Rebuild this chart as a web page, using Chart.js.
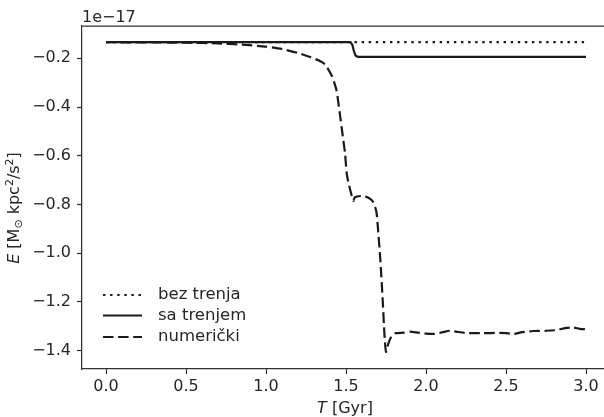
<!DOCTYPE html>
<html>
<head>
<meta charset="utf-8">
<script src="https://cdn.jsdelivr.net/npm/chart.js@4"></script>
<style>html,body{margin:0;padding:0;background:#fff;overflow:hidden}</style>
</head>
<body>
<canvas id="chart" width="604" height="417"></canvas>
<script>
const canvas = document.getElementById("chart");
const ctx = canvas.getContext("2d");

// vrijednosti u jedinicama 1e-17
const tBez = [0, 3.0];
const eBez = [-0.134, -0.134];

const tSa = [0, 1.528, 1.54, 1.55, 1.56, 1.575, 3.0];
const eSa = [-0.134, -0.134, -0.145, -0.172, -0.189, -0.194, -0.194];

const tNum = [0, 0.3, 0.5, 0.7, 0.85, 1.0, 1.1, 1.2, 1.28, 1.34, 1.37, 1.41, 1.44, 1.46, 1.48, 1.494, 1.504, 1.515, 1.53, 1.546,
  1.555, 1.6, 1.64, 1.67, 1.69, 1.70, 1.715, 1.73, 1.74, 1.75, 1.765, 1.785, 1.81, 1.86, 1.9, 1.95, 2.0, 2.05, 2.1, 2.15,
  2.2, 2.25, 2.35, 2.45, 2.5, 2.55, 2.6, 2.67, 2.75, 2.82, 2.87, 2.92, 2.96, 3.0];
const eNum = [-0.134, -0.135, -0.136, -0.139, -0.144, -0.152, -0.162, -0.178, -0.196, -0.212, -0.226, -0.27, -0.33, -0.42, -0.52, -0.59, -0.67, -0.71, -0.75, -0.785,
  -0.77, -0.765, -0.772, -0.79, -0.83, -0.9, -1.03, -1.2, -1.33, -1.405, -1.37, -1.34, -1.328, -1.326, -1.322, -1.326, -1.33, -1.331, -1.325, -1.318,
  -1.323, -1.327, -1.328, -1.327, -1.328, -1.331, -1.324, -1.319, -1.318, -1.315, -1.307, -1.305, -1.31, -1.312];

const xTicks = [0, 0.5, 1.0, 1.5, 2.0, 2.5, 3.0];
const yTicks = [-1.4, -1.2, -1.0, -0.8, -0.6, -0.4, -0.2];
const labels = ["bez trenja", "sa trenjem", "numerički"];

const pts = (xs, ys) => xs.map((x, i) => ({ x, y: ys[i] }));
const FONT = "'DejaVu Sans', sans-serif";
const TXT = "#262626";
const LINE = "#1a1a1a";

const extras = {
  id: "extras",
  afterDraw(chart) {
    const c = chart.ctx, a = chart.chartArea;
    c.save();
    // gornja os
    c.strokeStyle = "#333";
    c.lineWidth = 1.25;
    c.beginPath();
    c.moveTo(a.left, a.top);
    c.lineTo(a.right, a.top);
    c.stroke();

    c.fillStyle = TXT;
    c.textBaseline = "alphabetic";
    c.textAlign = "left";
    c.font = "16px " + FONT;
    c.fillText("1e\u221217", a.left, 22);

    // legenda
    const rows = [295, 315.5, 337];
    chart.data.datasets.forEach((ds, i) => {
      const y = rows[i];
      c.strokeStyle = ds.borderColor;
      c.lineWidth = ds.borderWidth;
      c.setLineDash(ds.borderDash || []);
      c.beginPath();
      c.moveTo(103, y);
      c.lineTo(142, y);
      c.stroke();
      c.setLineDash([]);
      c.textBaseline = "middle";
      c.font = "16.5px " + FONT;
      c.fillText(ds.label, 158, y);
    });

    // naslov x osi
    const xt = [["T", "italic 16px " + FONT, 0], [" [Gyr]", "16px " + FONT, 0]];
    drawParts(c, xt, 345, 413);

    // naslov y osi
    c.translate(19, 208);
    c.rotate(-Math.PI / 2);
    const yt = [
      ["E", "italic 16px " + FONT, 0],
      [" [M", "16px " + FONT, 0],
      ["\u2299", "11px " + FONT, 3],
      [" kpc", "16px " + FONT, 0],
      ["2", "11px " + FONT, -6],
      ["/s", "16px " + FONT, 0],
      ["2", "11px " + FONT, -6],
      ["]", "16px " + FONT, 0]
    ];
    drawParts(c, yt, 0, 0);
    c.restore();
  }
};

function drawParts(c, parts, cx, base) {
  let w = 0;
  parts.forEach(p => { c.font = p[1]; w += c.measureText(p[0]).width; });
  let x = cx - w / 2;
  c.textAlign = "left";
  c.textBaseline = "alphabetic";
  parts.forEach(p => {
    c.font = p[1];
    c.fillText(p[0], x, base + p[2]);
    x += c.measureText(p[0]).width;
  });
}

new Chart(ctx, {
  type: "line",
  data: {
    datasets: [
      { label: labels[0], data: pts(tBez, eBez), borderColor: LINE, borderWidth: 2.2, borderDash: [2.4, 4.7], pointRadius: 0, tension: 0 },
      { label: labels[1], data: pts(tSa, eSa), borderColor: LINE, borderWidth: 2.2, pointRadius: 0, tension: 0 },
      { label: labels[2], data: pts(tNum, eNum), borderColor: LINE, borderWidth: 2.2, borderDash: [10.5, 4.6], pointRadius: 0, tension: 0.2 }
    ]
  },
  options: {
    responsive: false,
    animation: false,
    layout: { padding: { top: 26, left: 0, right: 0, bottom: 0 } },
    plugins: { legend: { display: false }, tooltip: { enabled: false } },
    scales: {
      x: {
        type: "linear",
        min: -0.15,
        max: 3.1125,
        afterFit: s => { s.height = 48; },
        afterBuildTicks: s => { s.ticks = xTicks.map(v => ({ value: v })); },
        ticks: { font: { family: FONT, size: 16 }, color: TXT, padding: 3, maxRotation: 0, callback: v => v.toFixed(1) },
        grid: { drawOnChartArea: false, tickLength: 5, tickColor: "#333", tickWidth: 1.25 },
        border: { color: "#333", width: 1.25 }
      },
      y: {
        type: "linear",
        min: -1.475,
        max: -0.0675,
        afterFit: s => { s.width = 82; },
        afterBuildTicks: s => { s.ticks = yTicks.map(v => ({ value: v })); },
        ticks: { font: { family: FONT, size: 16 }, color: TXT, padding: 6, callback: v => "\u2212" + Math.abs(v).toFixed(1) },
        grid: { drawOnChartArea: false, tickLength: 5, tickColor: "#333", tickWidth: 1.25 },
        border: { color: "#333", width: 1.25 }
      }
    }
  },
  plugins: [extras]
});
</script>
</body>
</html>
